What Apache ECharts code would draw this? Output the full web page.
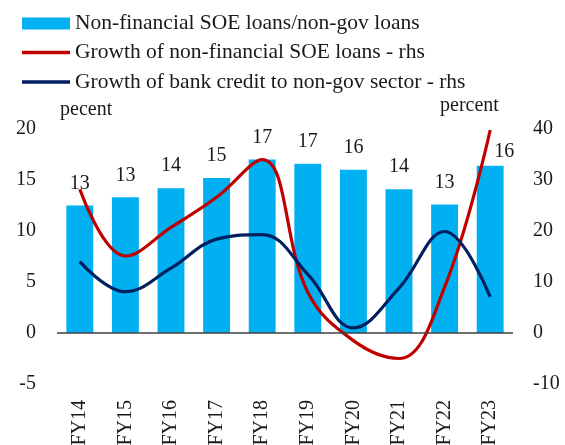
<!DOCTYPE html>
<html>
<head>
<meta charset="utf-8">
<script src="https://cdn.jsdelivr.net/npm/echarts@6/dist/echarts.min.js"></script>
<style>
  html, body { margin: 0; padding: 0; background: #ffffff; }
  #chart { width: 565px; height: 445px; }
</style>
</head>
<body>
<div id="chart"></div>
<script>
// Fiscal years on the category axis
var categories = ['FY14', 'FY15', 'FY16', 'FY17', 'FY18', 'FY19', 'FY20', 'FY21', 'FY22', 'FY23'];
// Non-financial SOE loans as a share of non-government loans (percent, lhs)
var soeShare = [12.5, 13.3, 14.2, 15.2, 17.0, 16.6, 16.0, 14.1, 12.6, 16.4];
// Growth of non-financial SOE loans (percent, rhs)
var soeGrowth = [28.2, 15.1, 20.7, 26.6, 34.0, 8.0, -1.5, -5.0, 9.0, 39.8];
// Growth of bank credit to the non-government sector (percent, rhs)
var creditGrowth = [14.0, 8.1, 12.7, 18.4, 19.3, 11.5, 1.0, 8.8, 19.9, 7.1];

var seriesNames = [
  'Non-financial SOE loans/non-gov loans',
  'Growth of non-financial SOE loans - rhs',
  'Growth of bank credit to non-gov sector - rhs'
];

var FONT = 'Liberation Serif';
var TXT = '#1a1a1a';
var LEGEND_FS = 21.5;
var AXIS_FS = 20;

var barData = soeShare.map(function (v, i) {
  var item = { value: v };
  if (i === soeShare.length - 1) {
    // last label nudged right so it clears the red line
    item.label = { offset: [14, 8] };
  }
  return item;
});

var chart = echarts.init(document.getElementById('chart'), null, { renderer: 'canvas' });

var legendText = { fontFamily: FONT, fontSize: LEGEND_FS, color: TXT };

chart.setOption({
  animation: false,
  backgroundColor: '#ffffff',
  textStyle: { fontFamily: FONT, color: TXT },
  legend: [
    {
      orient: 'vertical',
      left: 17,
      top: 7.5,
      itemWidth: 48,
      itemHeight: 12,
      itemGap: 5,
      textStyle: legendText,
      data: [{ name: seriesNames[0], icon: 'rect' }]
    },
    {
      orient: 'vertical',
      left: 17,
      top: 36.5,
      itemWidth: 48,
      itemHeight: 3.5,
      itemGap: 7.5,
      textStyle: legendText,
      data: [
        { name: seriesNames[1], icon: 'rect' },
        { name: seriesNames[2], icon: 'rect' }
      ]
    }
  ],
  graphic: [
    { type: 'text', left: 60, top: 100, style: { text: 'pecent', font: AXIS_FS + 'px "' + FONT + '"', fill: TXT } },
    { type: 'text', left: 440, top: 96, style: { text: 'percent', font: AXIS_FS + 'px "' + FONT + '"', fill: TXT } }
  ],
  grid: { left: 57, right: 52, top: 129, bottom: 61, containLabel: false, outerBoundsMode: 'none' },
  xAxis: {
    type: 'category',
    data: categories,
    axisLine: { show: false, onZero: false },
    axisTick: { show: false },
    axisLabel: {
      rotate: 90,
      margin: 16,
      fontFamily: FONT,
      fontSize: AXIS_FS,
      color: TXT
    }
  },
  yAxis: [
    {
      type: 'value',
      min: -5, max: 20, interval: 5,
      splitLine: { show: false },
      axisLine: { show: false },
      axisTick: { show: false },
      axisLabel: { fontFamily: FONT, fontSize: AXIS_FS, color: TXT, margin: 21 }
    },
    {
      type: 'value',
      min: -10, max: 40, interval: 10,
      position: 'right',
      splitLine: { show: false },
      axisLine: { show: false },
      axisTick: { show: false },
      axisLabel: { fontFamily: FONT, fontSize: AXIS_FS, color: TXT, margin: 20 }
    }
  ],
  series: [
    {
      name: seriesNames[0],
      type: 'bar',
      yAxisIndex: 0,
      data: barData,
      barCategoryGap: '41%',
      itemStyle: { color: '#00B0F0' },
      label: {
        show: true,
        position: 'top',
        distance: 12,
        fontFamily: FONT,
        fontSize: AXIS_FS,
        color: TXT,
        formatter: function (p) { return Math.round(p.value); }
      },
      markLine: {
        silent: true,
        symbol: 'none',
        label: { show: false },
        lineStyle: { color: '#404040', width: 1.5, type: 'solid' },
        data: [{ yAxis: 0 }]
      },
      z: 1
    },
    {
      name: seriesNames[1],
      type: 'line',
      yAxisIndex: 1,
      data: soeGrowth,
      smooth: 0.4,
      symbol: 'none',
      lineStyle: { color: '#C00000', width: 3.2 },
      itemStyle: { color: '#C00000' },
      z: 3
    },
    {
      name: seriesNames[2],
      type: 'line',
      yAxisIndex: 1,
      data: creditGrowth,
      smooth: 0.4,
      symbol: 'none',
      lineStyle: { color: '#002060', width: 3.2 },
      itemStyle: { color: '#002060' },
      z: 4
    }
  ]
});
</script>
</body>
</html>
